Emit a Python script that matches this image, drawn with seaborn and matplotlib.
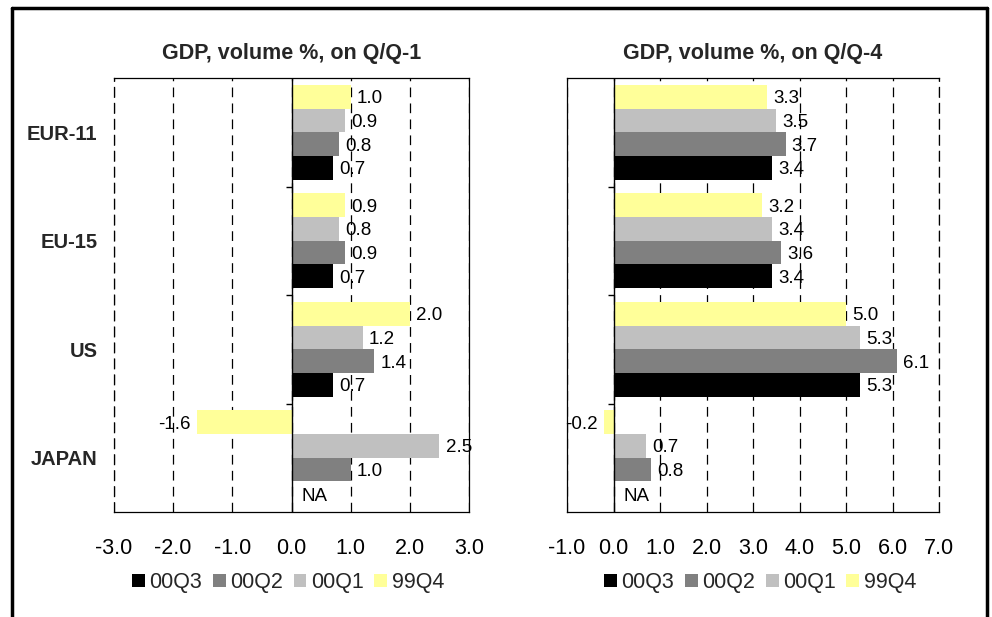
import numpy as np
import pandas as pd
import matplotlib
matplotlib.use("Agg")
import matplotlib.pyplot as plt
from matplotlib.patches import Patch
from matplotlib.lines import Line2D
import seaborn as sns

# ---------------- data ----------------
regions = ["EUR-11", "EU-15", "US", "JAPAN"]
quarters = ["99Q4", "00Q1", "00Q2", "00Q3"]          # top-to-bottom inside each group
legend_order = ["00Q3", "00Q2", "00Q1", "99Q4"]

q1_99Q4 = [1.0, 0.9, 2.0, -1.6]
q1_00Q1 = [0.9, 0.8, 1.2, 2.5]
q1_00Q2 = [0.8, 0.9, 1.4, 1.0]
q1_00Q3 = [0.7, 0.7, 0.7, np.nan]

q4_99Q4 = [3.3, 3.2, 5.0, -0.2]
q4_00Q1 = [3.5, 3.4, 5.3, 0.7]
q4_00Q2 = [3.7, 3.6, 6.1, 0.8]
q4_00Q3 = [3.4, 3.4, 5.3, np.nan]

left_ticks = [-3, -2, -1, 0, 1, 2, 3]
right_ticks = [-1, 0, 1, 2, 3, 4, 5, 6, 7]

title_left = "GDP, volume %, on Q/Q-1"
title_right = "GDP, volume %, on Q/Q-4"

colors = {"00Q3": "#000000", "00Q2": "#808080", "00Q1": "#C0C0C0", "99Q4": "#FFFF99"}


def long_frame(series):
    rows = []
    for q, vals in zip(quarters, series):
        for r, v in zip(regions, vals):
            rows.append({"region": r, "quarter": q, "value": v})
    return pd.DataFrame(rows)


df_left = long_frame([q1_99Q4, q1_00Q1, q1_00Q2, q1_00Q3])
df_right = long_frame([q4_99Q4, q4_00Q1, q4_00Q2, q4_00Q3])

# ---------------- style ----------------
sns.set_style("white")
plt.rcParams["font.family"] = ["Liberation Sans", "DejaVu Sans"]
plt.rcParams["lines.scale_dashes"] = False

fig = plt.figure(figsize=(9.92, 6.17), dpi=100)
W, H = 992.0, 617.0
ax_l = fig.add_axes([114 / W, 1 - 512 / H, 355 / W, 434 / H])
ax_r = fig.add_axes([567 / W, 1 - 512 / H, 372 / W, 434 / H])

LABEL_FS = 13.5
TICK_FS = 15.5
LEG_FS = 15.5


def draw(ax, df, ticks, title, show_cats, legend_x, dashed_spine):
    sns.barplot(data=df, y="region", x="value", hue="quarter", order=regions,
                hue_order=quarters, palette=colors, saturation=1, orient="h",
                width=0.875, gap=0, linewidth=0, errorbar=None, legend=False,
                ax=ax, zorder=2)
    ax.set_xlim(ticks[0], ticks[-1])
    ax.set_ylim(len(regions) - 0.5, -0.5)
    ax.set_xticks(ticks)
    ax.set_xticklabels([f"{t:.1f}" for t in ticks], fontsize=TICK_FS)
    ax.tick_params(axis="x", direction="out", length=4.3, width=1,
                   color="black", pad=14.5, labelcolor="black")
    ax.tick_params(axis="y", length=0, pad=12)
    ax.set_xlabel("")
    ax.set_ylabel("")
    if show_cats:
        ax.set_yticks(range(len(regions)))
        ax.set_yticklabels(regions, fontsize=14.5, fontweight="bold")
    else:
        ax.set_yticklabels([])

    ax.set_axisbelow(True)
    ax.grid(axis="x", color="black", linestyle=(0, (7, 4.5)), linewidth=0.9)
    ax.grid(axis="y", visible=False)
    for s in ax.spines.values():
        s.set_color("black")
        s.set_linewidth(0.9)
    if dashed_spine is not None:
        ax.spines[dashed_spine].set_linestyle((0, (7, 4.5)))

    ax.axvline(0, color="black", linewidth=1.0, zorder=3)
    bounds = [i + 0.5 for i in range(len(regions) - 1)]
    ax.plot([0] * len(bounds), bounds, linestyle="none", marker=0,
            markersize=4, markeredgewidth=1, color="black", zorder=3)

    # value labels
    offsets = {}
    for k, cont in enumerate(ax.containers):
        for bar in cont:
            w = bar.get_width()
            cy = bar.get_y() + bar.get_height() / 2
            if not np.isfinite(w):
                continue
            offsets[k] = cy - round(cy)
            if w >= 0:
                ax.annotate(f"{w:.1f}", (w, cy), xytext=(4.5, -1.5),
                            textcoords="offset points", ha="left",
                            va="center", fontsize=LABEL_FS, color="black",
                            zorder=4)
            else:
                ax.annotate(f"{w:.1f}", (w, cy), xytext=(-4.5, -1.5),
                            textcoords="offset points", ha="right",
                            va="center", fontsize=LABEL_FS, color="black",
                            zorder=4)
    # NA labels
    for qi, q in enumerate(quarters):
        sub = df[df["quarter"] == q]
        for ri, r in enumerate(regions):
            v = sub[sub["region"] == r]["value"].values[0]
            if np.isnan(v):
                off = offsets.get(qi, -0.4375 + (qi + 0.5) * 0.875 / 4)
                ax.annotate("NA", (0, ri + off), xytext=(7, -2),
                            textcoords="offset points", ha="left",
                            va="center", fontsize=LABEL_FS, color="black")

    ax.set_title(title, fontsize=15.5, fontweight="bold", pad=13.5)

    handles = [Patch(facecolor=colors[q], edgecolor="none") for q in legend_order]
    ax.legend(handles, legend_order, loc="center",
              bbox_to_anchor=(legend_x, -0.163), ncol=4, frameon=False,
              fontsize=LEG_FS, handlelength=0.6, handleheight=0.6,
              handletextpad=0.2, columnspacing=0.5, borderaxespad=0,
              borderpad=0)


draw(ax_l, df_left, left_ticks, title_left, True, 0.49, "left")
draw(ax_r, df_right, right_ticks, title_right, False, 0.519, "right")

# outer frame (top, left, right)
yt = 1 - 8 / H
fig.add_artist(Line2D([12 / W, 987 / W], [yt, yt], color="black", linewidth=2.5,
                      transform=fig.transFigure))
fig.add_artist(Line2D([12 / W, 12 / W], [0, yt], color="black", linewidth=2.5,
                      transform=fig.transFigure))
fig.add_artist(Line2D([987 / W, 987 / W], [0, yt], color="black", linewidth=2.5,
                      transform=fig.transFigure))

fig.savefig("out.png", dpi=100)
